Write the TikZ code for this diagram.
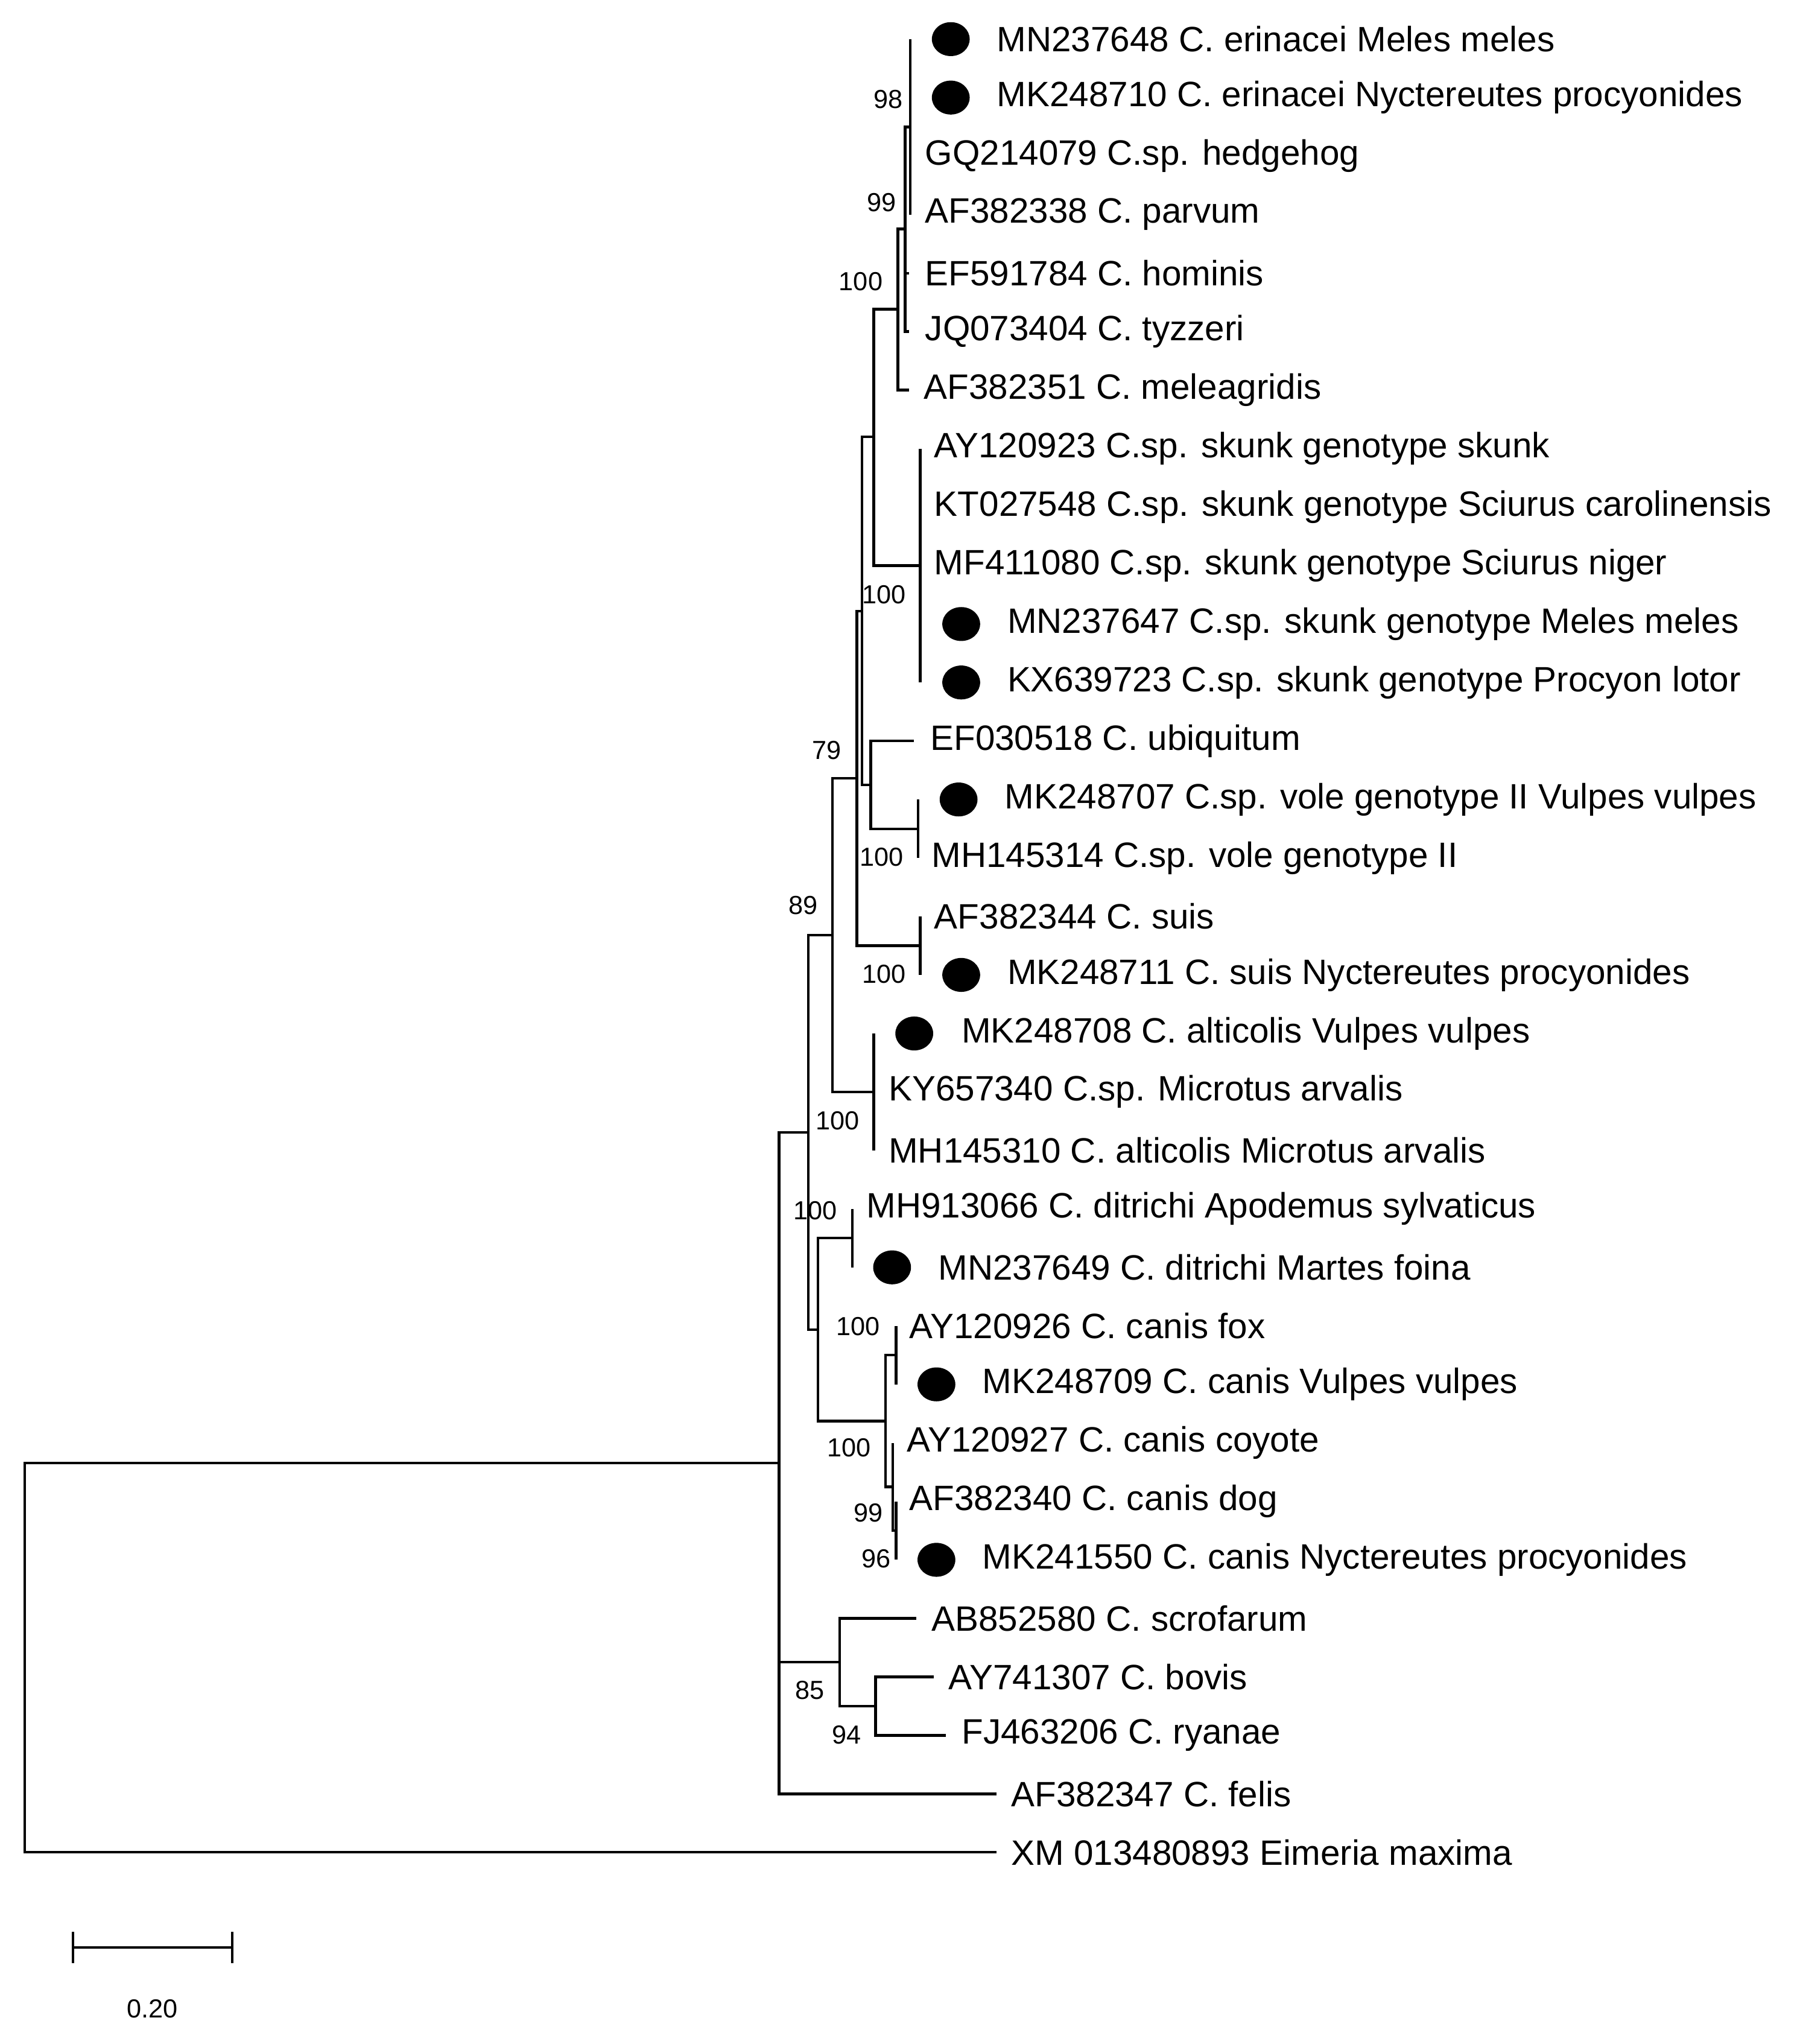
\documentclass[tikz,border=0pt]{standalone}
\usepackage{fontspec}
\setmainfont{Liberation Sans}
\usetikzlibrary{shapes.geometric}
\begin{document}
\begin{tikzpicture}[x=0.5pt,y=-0.5pt,
  br/.style={line width=1pt},
  lf/.style={anchor=west,inner sep=0pt,font=\fontsize{13.5}{15}\selectfont},
  bs/.style={inner sep=0pt,font=\fontsize{10}{12}\selectfont},
  dot/.style={fill=black,ellipse,minimum width=14.5pt,minimum height=13pt,inner sep=0pt}]
\useasboundingbox (0,0) rectangle (1380,1567);
% leaf ends
\coordinate (e0) at (698,30); \coordinate (e1) at (698,74.8);
\coordinate (e2) at (698,119.7); \coordinate (e3) at (698,164.5);
\coordinate (e4) at (697,209.4); \coordinate (e5) at (697,254.2);
\coordinate (e6) at (697,299.0);
\coordinate (e7) at (705.5,343.9); \coordinate (e8) at (705.5,388.7);
\coordinate (e9) at (705.5,433.6); \coordinate (e10) at (705.5,478.4);
\coordinate (e11) at (705.5,523.2);
\coordinate (e12) at (700.7,568.1);
\coordinate (e13) at (704,612.9); \coordinate (e14) at (704,657.8);
\coordinate (e15) at (705.5,702.6); \coordinate (e16) at (705.5,747.4);
\coordinate (e17) at (670,792.3); \coordinate (e18) at (670,837.1); \coordinate (e19) at (670,882.0);
\coordinate (e20) at (653.4,926.8); \coordinate (e21) at (653.4,971.6);
\coordinate (e22) at (687,1016.5); \coordinate (e23) at (687,1061.3);
\coordinate (e24) at (684.6,1106.2);
\coordinate (e25) at (687,1151.0); \coordinate (e26) at (687,1195.8);
\coordinate (e27) at (702.6,1240.7); \coordinate (e28) at (715.8,1285.5);
\coordinate (e29) at (725,1330.4); \coordinate (e30) at (764,1375.2);
\coordinate (e31) at (764,1420.0);
% internal nodes
\coordinate (A98) at (698,97.3);
\coordinate (A99) at (694,175.5);
\coordinate (A100) at (688.5,237);
\coordinate (S) at (705.5,433.6);
\coordinate (B) at (670,335);
\coordinate (V) at (704,635.4);
\coordinate (C) at (667.6,601.8);
\coordinate (D) at (661,468.4);
\coordinate (U) at (705.5,725);
\coordinate (E) at (657,596.7);
\coordinate (F) at (670,837.1);
\coordinate (G) at (638.3,716.9);
\coordinate (H) at (653.4,949.2);
\coordinate (I) at (687,1038.9);
\coordinate (K) at (687,1173.4);
\coordinate (J) at (684.6,1139.8);
\coordinate (L) at (679,1089.4);
\coordinate (M) at (627.2,1019.3);
\coordinate (N) at (619.8,868.1);
\coordinate (P) at (671.4,1308);
\coordinate (Q) at (643.7,1274.3);
\coordinate (R) at (597.4,1121.7);
\coordinate (T) at (19,1270.8);
% branches
\draw[br] (A98) |- (e0); \draw[br] (A98) |- (e3);
\draw[br] (A99) |- (A98); \draw[br] (A99) |- (e4); \draw[br] (A99) |- (e5);
\draw[br] (A100) |- (A99); \draw[br] (A100) |- (e6);
\draw[br] (S) |- (e7); \draw[br] (S) |- (e11);
\draw[br] (B) |- (A100); \draw[br] (B) |- (S);
\draw[br] (V) |- (e13); \draw[br] (V) |- (e14);
\draw[br] (C) |- (e12); \draw[br] (C) |- (V);
\draw[br] (D) |- (B); \draw[br] (D) |- (C);
\draw[br] (U) |- (e15); \draw[br] (U) |- (e16);
\draw[br] (E) |- (D); \draw[br] (E) |- (U);
\draw[br] (F) |- (e17); \draw[br] (F) |- (e19);
\draw[br] (G) |- (E); \draw[br] (G) |- (F);
\draw[br] (H) |- (e20); \draw[br] (H) |- (e21);
\draw[br] (I) |- (e22); \draw[br] (I) |- (e23);
\draw[br] (K) |- (e25); \draw[br] (K) |- (e26);
\draw[br] (J) |- (e24); \draw[br] (J) |- (K);
\draw[br] (L) |- (I); \draw[br] (L) |- (J);
\draw[br] (M) |- (H); \draw[br] (M) |- (L);
\draw[br] (N) |- (G); \draw[br] (N) |- (M);
\draw[br] (P) |- (e28); \draw[br] (P) |- (e29);
\draw[br] (Q) |- (e27); \draw[br] (Q) |- (P);
\draw[br] (R) |- (N); \draw[br] (R) |- (Q); \draw[br] (R) |- (e30);
\draw[br] (T) |- (R); \draw[br] (T) |- (e31);
% leaf labels
\node[dot] (d0) at (729,30) {}; \node[lf] (l0) at (764,30) {MN237648 C. erinacei Meles meles};
\node[dot] (d1) at (729,74.8) {}; \node[lf] (l1) at (764,74.8) {MK248710 C. erinacei Nyctereutes procyonides};
\node[lf] (l2) at (709,119.7) {GQ214079 C.sp. hedgehog};
\node[lf] (l3) at (709,164.5) {AF382338 C. parvum};
\node[lf] (l4) at (709,209.4) {EF591784 C. hominis};
\node[lf] (l5) at (709,254.2) {JQ073404 C. tyzzeri};
\node[lf] (l6) at (708,299.0) {AF382351 C. meleagridis};
\node[lf] (l7) at (716,343.9) {AY120923 C.sp. skunk genotype skunk};
\node[lf] (l8) at (716,388.7) {KT027548 C.sp. skunk genotype Sciurus carolinensis};
\node[lf] (l9) at (716,433.6) {MF411080 C.sp. skunk genotype Sciurus niger};
\node[dot] (d10) at (737,478.4) {}; \node[lf] (l10) at (772,478.4) {MN237647 C.sp. skunk genotype Meles meles};
\node[dot] (d11) at (737,523.2) {}; \node[lf] (l11) at (772,523.2) {KX639723 C.sp. skunk genotype Procyon lotor};
\node[lf] (l12) at (713,568.1) {EF030518 C. ubiquitum};
\node[dot] (d13) at (735,612.9) {}; \node[lf] (l13) at (770,612.9) {MK248707 C.sp. vole genotype II Vulpes vulpes};
\node[lf] (l14) at (714,657.8) {MH145314 C.sp. vole genotype II};
\node[lf] (l15) at (716,702.6) {AF382344 C. suis};
\node[dot] (d16) at (737,747.4) {}; \node[lf] (l16) at (772,747.4) {MK248711 C. suis Nyctereutes procyonides};
\node[dot] (d17) at (701,792.3) {}; \node[lf] (l17) at (737,792.3) {MK248708 C. alticolis Vulpes vulpes};
\node[lf] (l18) at (681,837.1) {KY657340 C.sp. Microtus arvalis};
\node[lf] (l19) at (681,882.0) {MH145310 C. alticolis Microtus arvalis};
\node[lf] (l20) at (664,926.8) {MH913066 C. ditrichi Apodemus sylvaticus};
\node[dot] (d21) at (684,971.6) {}; \node[lf] (l21) at (719,971.6) {MN237649 C. ditrichi Martes foina};
\node[lf] (l22) at (697,1016.5) {AY120926 C. canis fox};
\node[dot] (d23) at (718,1061.3) {}; \node[lf] (l23) at (753,1061.3) {MK248709 C. canis Vulpes vulpes};
\node[lf] (l24) at (695,1106.2) {AY120927 C. canis coyote};
\node[lf] (l25) at (697,1151.0) {AF382340 C. canis dog};
\node[dot] (d26) at (718,1195.8) {}; \node[lf] (l26) at (753,1195.8) {MK241550 C. canis Nyctereutes procyonides};
\node[lf] (l27) at (714,1240.7) {AB852580 C. scrofarum};
\node[lf] (l28) at (727,1285.5) {AY741307 C. bovis};
\node[lf] (l29) at (737,1330.4) {FJ463206 C. ryanae};
\node[lf] (l30) at (775,1375.2) {AF382347 C. felis};
\node[lf] (l31) at (775,1420.0) {XM 013480893 Eimeria maxima};
% bootstrap
\node[bs] (b1) at (681,76) {98};
\node[bs] (b2) at (676,155) {99};
\node[bs] (b3) at (660,216) {100};
\node[bs] (b4) at (678,456) {100};
\node[bs] (b5) at (634,575) {79};
\node[bs] (b6) at (676,657) {100};
\node[bs] (b7) at (616,694) {89};
\node[bs] (b8) at (678,747) {100};
\node[bs] (b9) at (642,859) {100};
\node[bs] (b10) at (625,928) {100};
\node[bs] (b11) at (658,1017) {100};
\node[bs] (b12) at (651,1110) {100};
\node[bs] (b13) at (666,1160) {99};
\node[bs] (b14) at (672,1195) {96};
\node[bs] (b15) at (621,1296) {85};
\node[bs] (b16) at (649,1330) {94};
% scale bar
\coordinate (s1) at (56,1493); \coordinate (s2) at (178,1493);
\draw[br] (s1) -- (s2);
\draw[br] ([yshift=-6pt]s1) -- ([yshift=6pt]s1);
\draw[br] ([yshift=-6pt]s2) -- ([yshift=6pt]s2);
\node[bs] (sl) at (117,1540) {0.20};
\end{tikzpicture}
\end{document}
